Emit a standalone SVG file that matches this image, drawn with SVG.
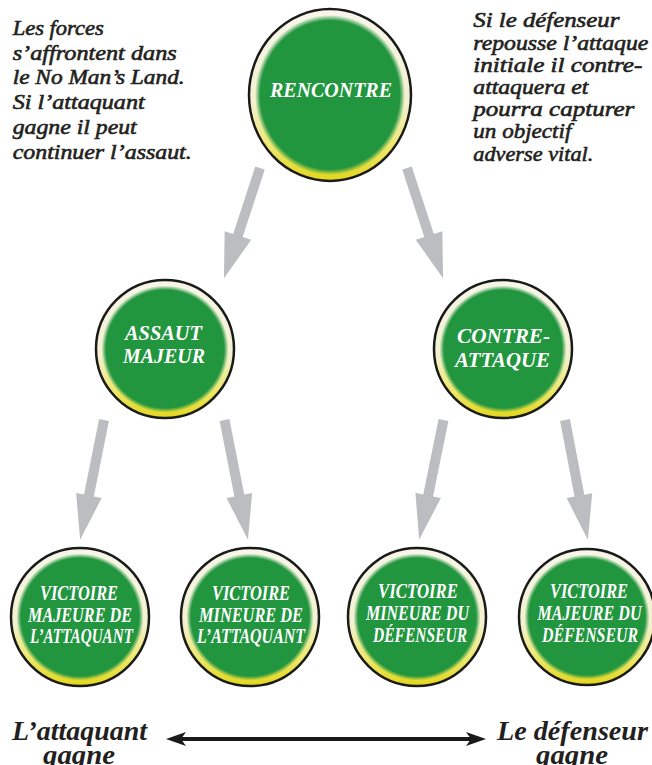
<svg xmlns="http://www.w3.org/2000/svg" width="652" height="765" viewBox="0 0 652 765">
<style>
.ring{fill:url(#ringG);stroke:#1a1a1a;stroke-width:2.5}
.core{fill:url(#coreG)}
.lbl{font-family:"Liberation Serif",serif;font-weight:bold;font-style:italic;font-size:20px;fill:#ffffff;text-anchor:middle}
.para{font-family:"Liberation Serif",serif;font-style:italic;font-size:21px;fill:#231f20;stroke:#231f20;stroke-width:0.6}
.win{font-family:"Liberation Serif",serif;font-weight:bold;font-style:italic;font-size:28px;fill:#231f20}
.arr{fill:#bcbdc0}
</style>
<defs>
<linearGradient id="ringG" x1="0" y1="0" x2="0" y2="1">
<stop offset="0" stop-color="#f7f6ea"/>
<stop offset="0.55" stop-color="#f3f1cf"/>
<stop offset="0.8" stop-color="#ede86c"/>
<stop offset="1" stop-color="#e2d61c"/>
</linearGradient>
<radialGradient id="coreG" cx="0.5" cy="0.5" r="0.5">
<stop offset="0" stop-color="#22963f"/>
<stop offset="0.93" stop-color="#22963f"/>
<stop offset="1" stop-color="#22963f" stop-opacity="0"/>
</radialGradient>
<path id="arrowA" d="M-5,0 V71 H-14 L0,116 L14,71 H5 V0 Z"/>
<path id="arrowB" d="M-5,0 V77 H-13 L0,122 L13,77 H5 V0 Z"/>
<marker id="head" viewBox="0 0 20 14" refX="6" refY="7" markerWidth="20" markerHeight="14" orient="auto-start-reverse" markerUnits="userSpaceOnUse">
<path d="M0,0 L20,7 L0,14 L5,7 Z" fill="#1a1a1a"/>
</marker>
</defs>

<g id="note-left">
<text class="para" x="12.7" y="35" textLength="91" lengthAdjust="spacingAndGlyphs">Les forces</text>
<text class="para" x="12.7" y="59.5" textLength="164" lengthAdjust="spacingAndGlyphs">s’affrontent dans</text>
<text class="para" x="12.7" y="84" textLength="172" lengthAdjust="spacingAndGlyphs">le No Man’s Land.</text>
<text class="para" x="12.7" y="109" textLength="132" lengthAdjust="spacingAndGlyphs">Si l’attaquant</text>
<text class="para" x="12.7" y="134" textLength="124" lengthAdjust="spacingAndGlyphs">gagne il peut</text>
<text class="para" x="12.7" y="159" textLength="179" lengthAdjust="spacingAndGlyphs">continuer l’assaut.</text>
</g>

<g id="note-right">
<text class="para" x="473.3" y="27.3" textLength="146" lengthAdjust="spacingAndGlyphs">Si le défenseur</text>
<text class="para" x="473.3" y="49.5" textLength="175" lengthAdjust="spacingAndGlyphs">repousse l’attaque</text>
<text class="para" x="473.3" y="71.5" textLength="169" lengthAdjust="spacingAndGlyphs">initiale il contre-</text>
<text class="para" x="473.3" y="93.5" textLength="115" lengthAdjust="spacingAndGlyphs">attaquera et</text>
<text class="para" x="473.3" y="115.5" textLength="161" lengthAdjust="spacingAndGlyphs">pourra capturer</text>
<text class="para" x="473.3" y="138" textLength="98" lengthAdjust="spacingAndGlyphs">un objectif</text>
<text class="para" x="473.3" y="161" textLength="120" lengthAdjust="spacingAndGlyphs">adverse vital.</text>
</g>

<g id="connectors">
<use href="#arrowA" class="arr" transform="translate(260,168) rotate(18.1)"/>
<use href="#arrowA" class="arr" transform="translate(407,168) rotate(-18.1)"/>
<use href="#arrowB" class="arr" transform="translate(104,420) rotate(11.3)"/>
<use href="#arrowB" class="arr" transform="translate(224.5,420) rotate(-11.1)"/>
<use href="#arrowB" class="arr" transform="translate(443.5,420) rotate(11.5)"/>
<use href="#arrowB" class="arr" transform="translate(565,420) rotate(-10.8)"/>
<line x1="180" y1="739" x2="472" y2="739" stroke="#1a1a1a" stroke-width="4" marker-start="url(#head)" marker-end="url(#head)"/>
</g>

<g id="rencontre">
<ellipse class="ring" cx="330" cy="95" rx="81" ry="86"/>
<ellipse class="core" cx="330" cy="95" rx="75" ry="80"/>
<text class="lbl" x="331" y="97" textLength="122" lengthAdjust="spacingAndGlyphs">RENCONTRE</text>
</g>

<g id="assaut-majeur">
<circle class="ring" cx="165" cy="349" r="69"/>
<circle class="core" cx="165" cy="349" r="63.5"/>
<text class="lbl" x="163.5" y="340" textLength="77" lengthAdjust="spacingAndGlyphs">ASSAUT</text>
<text class="lbl" x="164" y="363" textLength="82" lengthAdjust="spacingAndGlyphs">MAJEUR</text>
</g>

<g id="contre-attaque">
<circle class="ring" cx="503" cy="349" r="69"/>
<circle class="core" cx="503" cy="349" r="63.5"/>
<text class="lbl" x="503.5" y="343" textLength="93" lengthAdjust="spacingAndGlyphs">CONTRE-</text>
<text class="lbl" x="502.5" y="367" textLength="95" lengthAdjust="spacingAndGlyphs">ATTAQUE</text>
</g>

<g id="victoire-majeure-attaquant">
<circle class="ring" cx="80" cy="617" r="69"/>
<circle class="core" cx="80" cy="617" r="63.5"/>
<text class="lbl" x="79" y="600" textLength="78" lengthAdjust="spacingAndGlyphs">VICTOIRE</text>
<text class="lbl" x="80" y="622" textLength="104" lengthAdjust="spacingAndGlyphs">MAJEURE DE</text>
<text class="lbl" x="81.5" y="643" textLength="103" lengthAdjust="spacingAndGlyphs">L’ATTAQUANT</text>
</g>

<g id="victoire-mineure-attaquant">
<circle class="ring" cx="250" cy="617" r="69"/>
<circle class="core" cx="250" cy="617" r="63.5"/>
<text class="lbl" x="251" y="600" textLength="78" lengthAdjust="spacingAndGlyphs">VICTOIRE</text>
<text class="lbl" x="251" y="622" textLength="104" lengthAdjust="spacingAndGlyphs">MINEURE DE</text>
<text class="lbl" x="251" y="643" textLength="108" lengthAdjust="spacingAndGlyphs">L’ATTAQUANT</text>
</g>

<g id="victoire-mineure-defenseur">
<circle class="ring" cx="417" cy="617" r="69"/>
<circle class="core" cx="417" cy="617" r="63.5"/>
<text class="lbl" x="418" y="598" textLength="80" lengthAdjust="spacingAndGlyphs">VICTOIRE</text>
<text class="lbl" x="417.5" y="620" textLength="103" lengthAdjust="spacingAndGlyphs">MINEURE DU</text>
<text class="lbl" x="420" y="642" textLength="94" lengthAdjust="spacingAndGlyphs">DÉFENSEUR</text>
</g>

<g id="victoire-majeure-defenseur">
<circle class="ring" cx="587" cy="617" r="68"/>
<circle class="core" cx="587" cy="617" r="62.5"/>
<text class="lbl" x="589" y="598" textLength="78" lengthAdjust="spacingAndGlyphs">VICTOIRE</text>
<text class="lbl" x="589.5" y="620" textLength="104" lengthAdjust="spacingAndGlyphs">MAJEURE DU</text>
<text class="lbl" x="590" y="642" textLength="96" lengthAdjust="spacingAndGlyphs">DÉFENSEUR</text>
</g>

<g id="legend-left">
<text class="win" x="12" y="740" textLength="135" lengthAdjust="spacingAndGlyphs">L’attaquant</text>
<text class="win" x="43" y="764" textLength="72" lengthAdjust="spacingAndGlyphs">gagne</text>
</g>
<g id="legend-right">
<text class="win" x="497" y="740" textLength="151" lengthAdjust="spacingAndGlyphs">Le défenseur</text>
<text class="win" x="536" y="764" textLength="72" lengthAdjust="spacingAndGlyphs">gagne</text>
</g>
</svg>
